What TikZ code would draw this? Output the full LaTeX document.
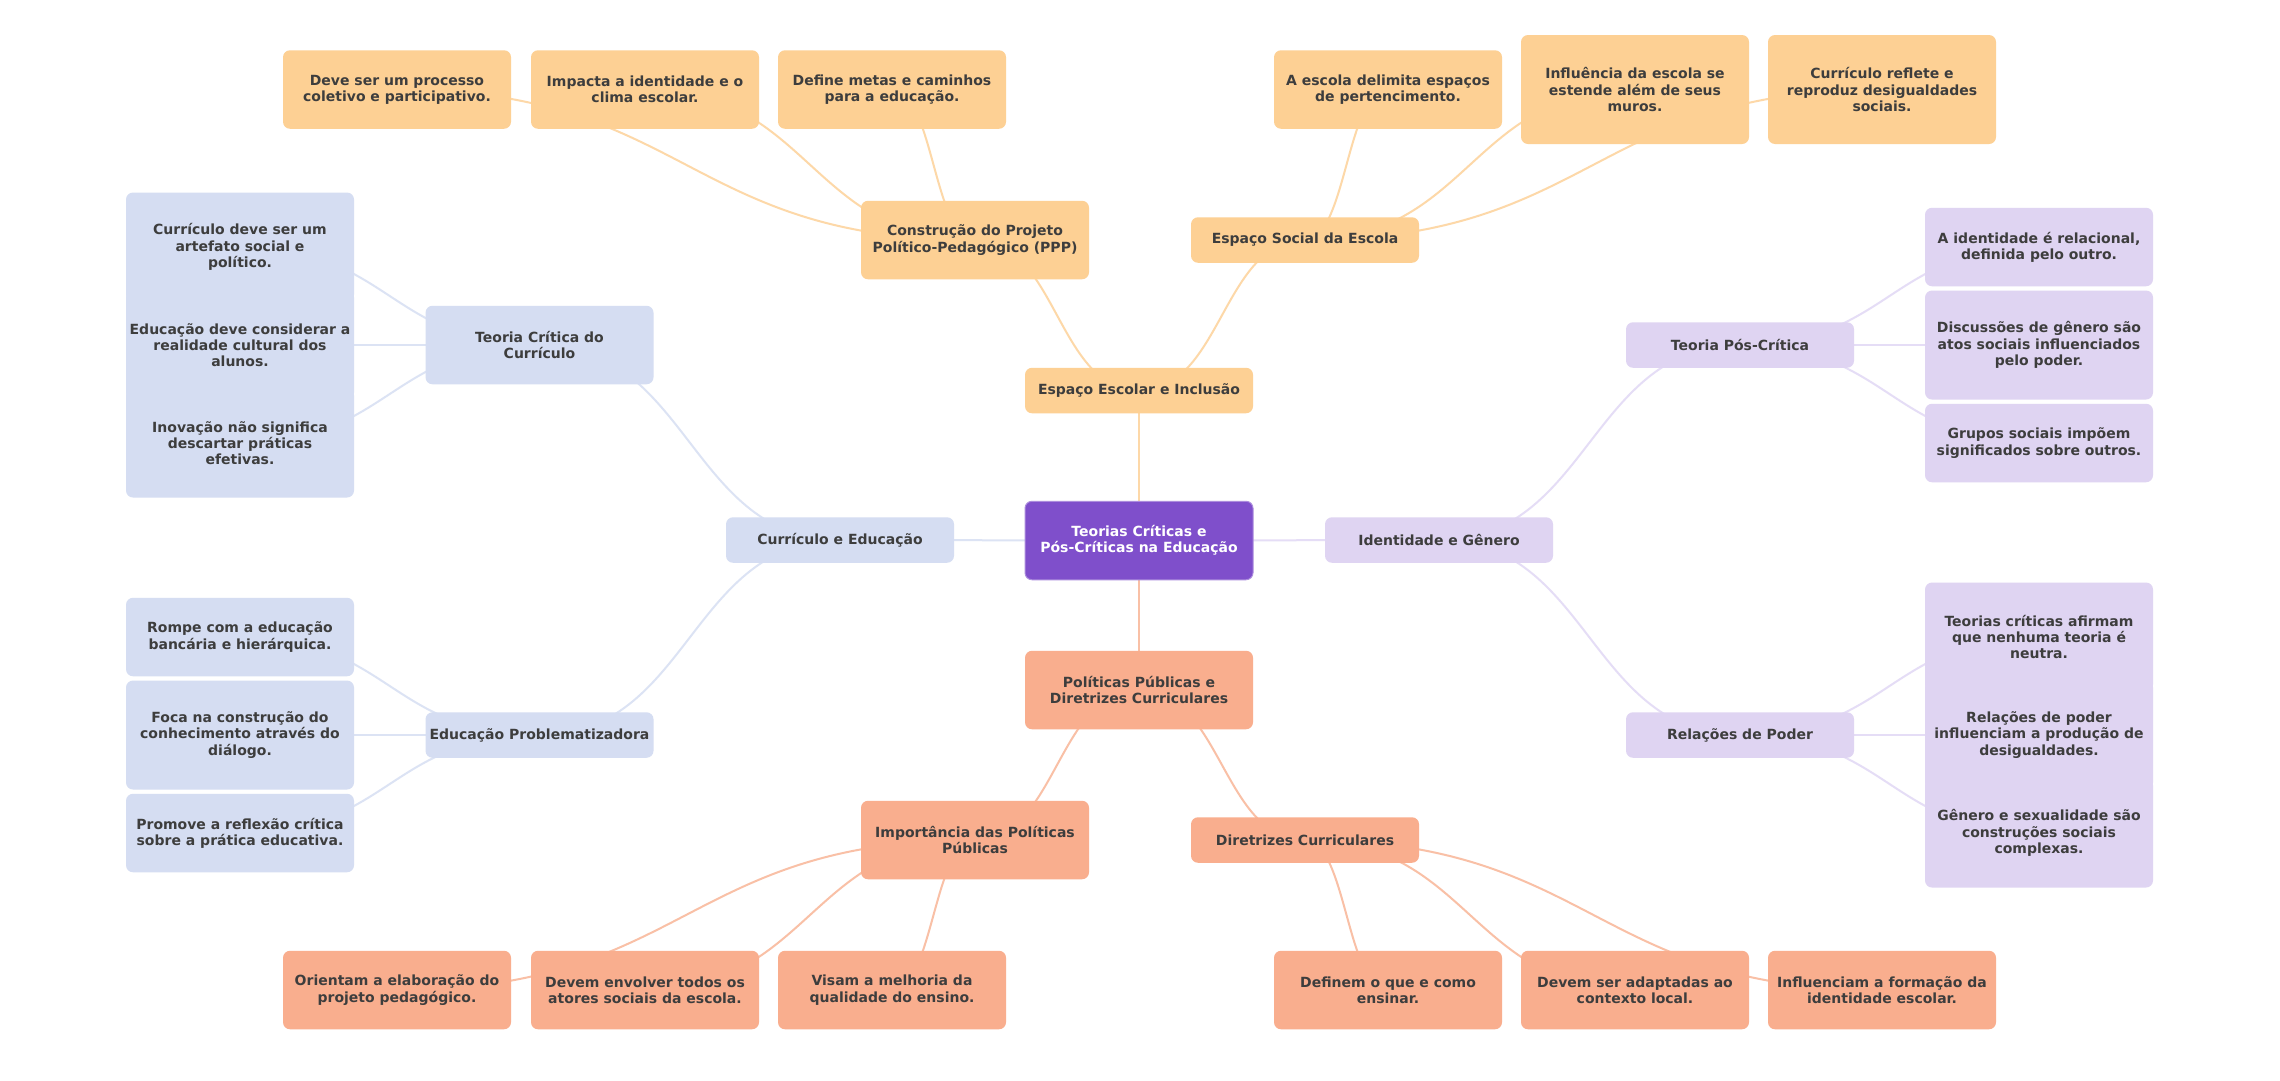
\documentclass[tikz,border=0pt]{standalone}
\usepackage{fontspec}
\setmainfont{DejaVu Sans}
\usetikzlibrary{calc,backgrounds}
\definecolor{txt}{HTML}{3D3D3D}
\definecolor{rootc}{HTML}{7F4FCB}
\definecolor{orac}{HTML}{FDD094}
\definecolor{salc}{HTML}{F9AE8E}
\definecolor{bluc}{HTML}{D5DDF2}
\definecolor{purc}{HTML}{DFD4F2}
\definecolor{orae}{HTML}{FDD8A8}
\definecolor{sale}{HTML}{F9C0A6}
\definecolor{blue2}{HTML}{DCE3F4}
\definecolor{pure}{HTML}{E5DDF6}
\tikzset{
  mmbox/.style={rectangle, rounded corners=7pt, minimum width=228pt, inner sep=0pt,
    align=center, text=txt, font=\fontsize{14}{16.3}\selectfont\bfseries, draw=none},
  obox/.style={mmbox, fill=orac},
  sbox/.style={mmbox, fill=salc},
  bbox/.style={mmbox, fill=bluc},
  pbox/.style={mmbox, fill=purc},
  rbox/.style={mmbox, fill=rootc, draw=rootc!65!white, line width=1pt, text=white},
  hone/.style={minimum height=45.5pt},
  htwo/.style={minimum height=78.5pt},
  hthree/.style={minimum height=109pt},
  oedge/.style={draw=orae, line width=2pt},
  sedge/.style={draw=sale, line width=2pt},
  bedge/.style={draw=blue2, line width=2pt},
  pedge/.style={draw=pure, line width=2pt},
}
\newcommand\mmlink[3]{\draw[#1] let \p1=(#2.center), \p2=(#3.center) in (\p1) .. controls ({0.5*\x1+0.5*\x2},\y1) and ({0.5*\x1+0.5*\x2},\y2) .. (\p2);}
\begin{document}
\begin{tikzpicture}[x=1pt,y=-1pt]
\useasboundingbox (0,0) rectangle (2280,1080);
% main
\node[rbox,htwo] (root) at (1139,540.5) {Teorias Críticas e\\Pós-Críticas na Educação};
\node[obox,hone] (esc) at (1139,390.5) {Espaço Escolar e Inclusão};
\node[sbox,htwo] (pol) at (1139,690) {Políticas Públicas e\\Diretrizes Curriculares};
\node[bbox,hone] (cur) at (840,540) {Currículo e Educação};
\node[pbox,hone] (ide) at (1439,540) {Identidade e Gênero};
% level 2
\node[obox,htwo] (ppp) at (975,240) {Construção do Projeto\\Político-Pedagógico (PPP)};
\node[obox,hone] (esp) at (1305,240) {Espaço Social da Escola};
\node[sbox,htwo] (imp) at (975,840) {Importância das Políticas\\Públicas};
\node[sbox,hone] (dir) at (1305,840) {Diretrizes Curriculares};
\node[bbox,htwo] (tcc) at (539.5,345) {Teoria Crítica do\\Currículo};
\node[bbox,hone] (edp) at (539.5,735) {Educação Problematizadora};
\node[pbox,hone] (tpc) at (1740,345) {Teoria Pós-Crítica};
\node[pbox,hone] (rel) at (1740,735) {Relações de Poder};
% top leaves
\node[obox,htwo] (p1) at (397,89.5) {Deve ser um processo\\coletivo e participativo.};
\node[obox,htwo] (p2) at (645,89.5) {Impacta a identidade e o\\clima escolar.};
\node[obox,htwo] (p3) at (892,89.5) {Define metas e caminhos\\para a educação.};
\node[obox,htwo] (e1) at (1388,89.5) {A escola delimita espaços\\de pertencimento.};
\node[obox,hthree] (e2) at (1635,89.5) {Influência da escola se\\estende além de seus\\muros.};
\node[obox,hthree] (e3) at (1882,89.5) {Currículo reflete e\\reproduz desigualdades\\sociais.};
% bottom leaves
\node[sbox,htwo] (i1) at (397,990) {Orientam a elaboração do\\projeto pedagógico.};
\node[sbox,htwo] (i2) at (645,990) {Devem envolver todos os\\atores sociais da escola.};
\node[sbox,htwo] (i3) at (892,990) {Visam a melhoria da\\qualidade do ensino.};
\node[sbox,htwo] (d1) at (1388,990) {Definem o que e como\\ensinar.};
\node[sbox,htwo] (d2) at (1635,990) {Devem ser adaptadas ao\\contexto local.};
\node[sbox,htwo] (d3) at (1882,990) {Influenciam a formação da\\identidade escolar.};
% left leaves
\node[bbox,hthree] (t1) at (240,247) {Currículo deve ser um\\artefato social e\\político.};
\node[bbox,hthree] (t3) at (240,443) {Inovação não significa\\descartar práticas\\efetivas.};
\node[bbox,hthree] (t2) at (240,345) {Educação deve considerar a\\realidade cultural dos\\alunos.};
\node[bbox,htwo] (q1) at (240,637) {Rompe com a educação\\bancária e hierárquica.};
\node[bbox,hthree] (q2) at (240,735) {Foca na construção do\\conhecimento através do\\diálogo.};
\node[bbox,htwo] (q3) at (240,833) {Promove a reflexão crítica\\sobre a prática educativa.};
% right leaves
\node[pbox,htwo] (s1) at (2039,247) {A identidade é relacional,\\definida pelo outro.};
\node[pbox,hthree] (s2) at (2039,345) {Discussões de gênero são\\atos sociais influenciados\\pelo poder.};
\node[pbox,htwo] (s3) at (2039,443) {Grupos sociais impõem\\significados sobre outros.};
\node[pbox,hthree] (r1) at (2039,637) {Teorias críticas afirmam\\que nenhuma teoria é\\neutra.};
\node[pbox,hthree] (r3) at (2039,833) {Gênero e sexualidade são\\construções sociais\\complexas.};
\node[pbox,hthree] (r2) at (2039,735) {Relações de poder\\influenciam a produção de\\desigualdades.};
\begin{scope}[on background layer]
\fill[white] (0,0) rectangle (2280,1080);
\mmlink{oedge}{root}{esc}
\mmlink{sedge}{root}{pol}
\mmlink{bedge}{root}{cur}
\mmlink{pedge}{root}{ide}
\mmlink{oedge}{esc}{ppp}
\mmlink{oedge}{esc}{esp}
\mmlink{sedge}{pol}{imp}
\mmlink{sedge}{pol}{dir}
\mmlink{bedge}{cur}{tcc}
\mmlink{bedge}{cur}{edp}
\mmlink{pedge}{ide}{tpc}
\mmlink{pedge}{ide}{rel}
\mmlink{oedge}{ppp}{p1}
\mmlink{oedge}{ppp}{p2}
\mmlink{oedge}{ppp}{p3}
\mmlink{oedge}{esp}{e1}
\mmlink{oedge}{esp}{e2}
\mmlink{oedge}{esp}{e3}
\mmlink{sedge}{imp}{i1}
\mmlink{sedge}{imp}{i2}
\mmlink{sedge}{imp}{i3}
\mmlink{sedge}{dir}{d1}
\mmlink{sedge}{dir}{d2}
\mmlink{sedge}{dir}{d3}
\mmlink{bedge}{tcc}{t1}
\mmlink{bedge}{tcc}{t2}
\mmlink{bedge}{tcc}{t3}
\mmlink{bedge}{edp}{q1}
\mmlink{bedge}{edp}{q2}
\mmlink{bedge}{edp}{q3}
\mmlink{pedge}{tpc}{s1}
\mmlink{pedge}{tpc}{s2}
\mmlink{pedge}{tpc}{s3}
\mmlink{pedge}{rel}{r1}
\mmlink{pedge}{rel}{r2}
\mmlink{pedge}{rel}{r3}
\end{scope}
\end{tikzpicture}
\end{document}
